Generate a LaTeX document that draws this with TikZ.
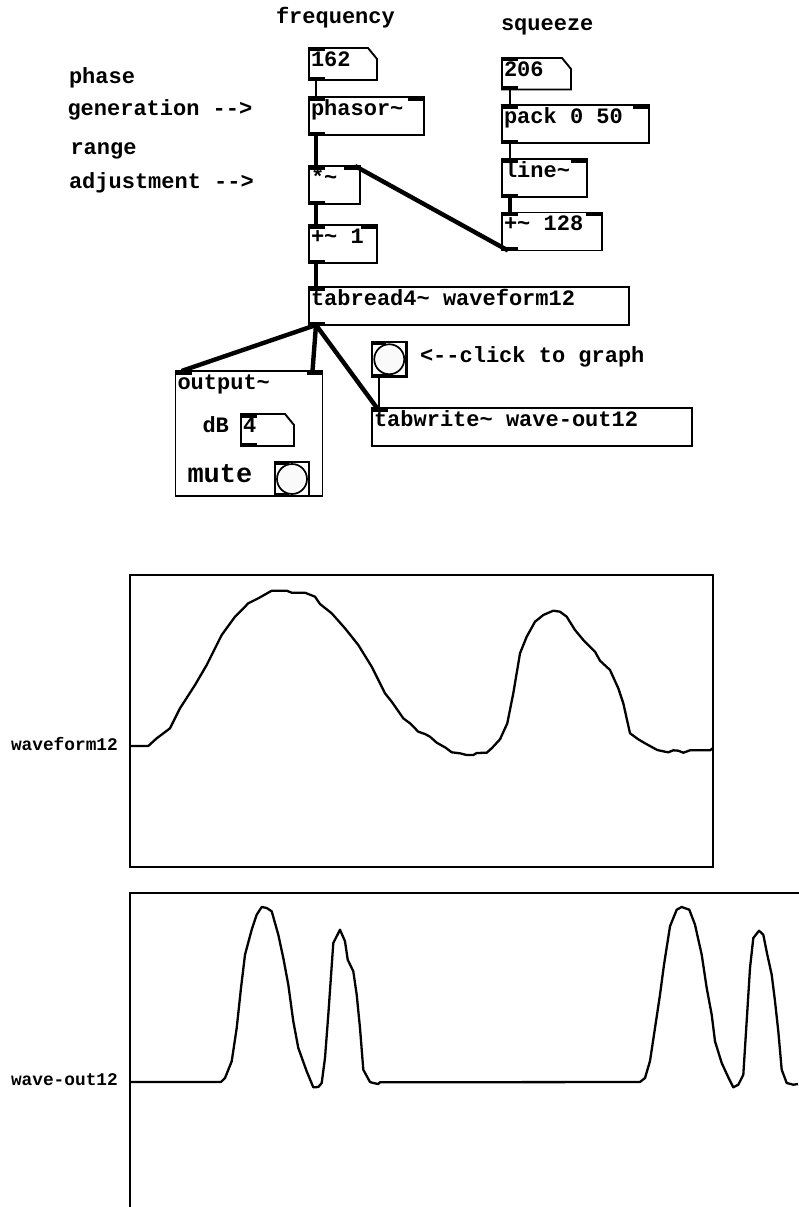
\documentclass[tikz,border=0pt]{standalone}
\usepackage{fontspec}
\setmonofont{Liberation Mono}
\newcommand\pdfnt{\ttfamily\bfseries\fontsize{22}{24}\selectfont}
\newcommand\pdsmall{\ttfamily\bfseries\fontsize{17.8}{20}\selectfont}
\newcommand\pdbig{\ttfamily\bfseries\fontsize{27}{30}\selectfont}
\tikzset{
  pdbox/.style={draw, line width=1.9pt, rectangle, anchor=north west, inner sep=0pt, outer sep=0pt},
  pdtxt/.style={anchor=base west, inner sep=0pt, outer sep=0pt, font=\pdfnt},
  sig/.style={line width=4.4pt},
  ctl/.style={line width=1.8pt},
  wave/.style={line width=2.3pt, line join=round},
}
\newcommand\pdobj[6]{%
  \node[pdbox, minimum width=#4pt, minimum height=#5pt] (#1) at (#2,#3) {};
  \node[pdtxt] (#1-t) at ([xshift=2pt,yshift=-18.4pt]#1.north west) {#6};
}
\newcommand\pdnumbox[6]{%
  \node[pdbox, draw=none, minimum width=#4pt, minimum height=#5pt] (#1) at (#2,#3) {};
  \draw[line width=1.9pt, line join=miter] (#1.north west) -- ([xshift=-9pt]#1.north east) -- ([yshift=-11pt]#1.north east) -- (#1.south east) -- (#1.south west) -- cycle;
  \node[pdtxt] (#1-t) at ([xshift=2pt,yshift=-18.4pt]#1.north west) {#6};
  \fill (#1.north west) rectangle ++(16,3.5);
  \fill (#1.south west) rectangle ++(16,-3.5);
}
\newcommand\pdbang[4]{%
  \node[pdbox, line width=2.1pt, minimum width=#4pt, minimum height=#4pt] (#1) at (#2,#3) {};
  \node[circle, draw, line width=1.7pt, fill=gray!4, minimum size=30pt, inner sep=0pt] (#1-c) at (#1.center) {};
  \fill (#1.north west) rectangle ++(14,3);
  \fill (#1.south west) rectangle ++(14,-3);
}
\newcommand\pdinL[1]{\fill (#1.north west) rectangle ++(16,3.5);}
\newcommand\pdinR[1]{\fill (#1.north east) rectangle ++(-16,3.5);}
\newcommand\pdoutL[1]{\fill (#1.south west) rectangle ++(16,-3.5);}
\begin{document}
\begin{tikzpicture}[x=1pt,y=-1pt]
\fill[white] (0,0) rectangle (798,1207);
\useasboundingbox (0,0) rectangle (798,1207);

% ---- labels
\node[pdtxt] (lfreq) at (276,23.5) {frequency};
\node[pdtxt] (lsq) at (501,31) {squeeze};
\node[pdtxt] (lphase) at (69,83.3) {phase};
\node[pdtxt] (lgen) at (67.5,115) {generation -->};
\node[pdtxt] (lrange) at (70.5,154) {range};
\node[pdtxt] (ladj) at (69,188.3) {adjustment -->};
\node[pdtxt] (lclick) at (420,362) {<--click to graph};

% ---- objects
\pdnumbox{nfreq}{309}{48}{68}{32}{162}
\pdobj{phasor}{309}{97}{115}{38}{phasor\textasciitilde}
\pdinL{phasor}\pdinR{phasor}\pdoutL{phasor}
\pdobj{mul}{309}{166}{51}{38}{*\textasciitilde}
\pdinL{mul}\pdinR{mul}\pdoutL{mul}
\pdobj{addone}{309}{225}{68}{38}{+\textasciitilde{} 1}
\pdinL{addone}\pdinR{addone}\pdoutL{addone}
\pdobj{tabread}{309}{287}{320}{38}{tabread4\textasciitilde{} waveform12}
\pdinL{tabread}\pdoutL{tabread}

\pdnumbox{nsq}{502}{58}{69}{31.5}{206}
\pdobj{pack}{502}{105}{147}{38}{pack 0 50}
\pdinL{pack}\pdinR{pack}\pdoutL{pack}
\pdobj{linet}{502}{159}{85}{38}{line\textasciitilde}
\pdinL{linet}\pdinR{linet}\pdoutL{linet}
\pdobj{addhi}{502}{212.5}{100}{38}{+\textasciitilde{} 128}
\pdinL{addhi}\pdinR{addhi}\pdoutL{addhi}

\pdobj{outp}{175.5}{371}{147}{125}{output\textasciitilde}
\pdinL{outp}\pdinR{outp}
\node[pdtxt] (ldb) at (202.5,432) {dB};
\pdnumbox{ndb}{241}{414}{53}{32}{4}
\node[pdtxt, font=\pdbig] (lmute) at (187.5,482.5) {mute};
\pdbang{mute}{275}{462}{34}

\pdbang{bang}{372}{342}{34.5}
\pdobj{tabwrite}{372}{408}{320}{38}{tabwrite\textasciitilde{} wave-out12}
\pdinL{tabwrite}

% ---- connections
\draw[ctl] ([xshift=7pt]nfreq.south west) -- ([xshift=7pt]phasor.north west);
\draw[sig] ([xshift=7pt]phasor.south west) -- ([xshift=7pt]mul.north west);
\draw[sig] ([xshift=7pt]mul.south west) -- ([xshift=7pt]addone.north west);
\draw[sig] ([xshift=7pt]addone.south west) -- ([xshift=7pt]tabread.north west);
\draw[ctl] ([xshift=8pt]nsq.south west) -- ([xshift=8pt]pack.north west);
\draw[ctl] ([xshift=8pt]pack.south west) -- ([xshift=8pt]linet.north west);
\draw[sig] ([xshift=8pt]linet.south west) -- ([xshift=8pt]addhi.north west);
\draw[sig] ([xshift=6pt]addhi.south west) -- ([xshift=-5pt]mul.north east);
\draw[sig] ([xshift=7pt]tabread.south west) -- ([xshift=6pt]outp.north west);
\draw[sig] ([xshift=7pt]tabread.south west) -- ([xshift=-10pt]outp.north east);
\draw[sig] ([xshift=7pt]tabread.south west) -- ([xshift=5pt]tabwrite.north west);
\draw[ctl] ([xshift=7pt]bang.south west) -- ([xshift=7pt]tabwrite.north west);

% ---- graph 1
\node[pdbox, line width=2pt, minimum width=583pt, minimum height=292pt] (graphA) at (130,575) {};
\node[pdtxt, font=\pdsmall] (lwf) at (11,750.5) {waveform12};
\draw[wave] plot coordinates {(131,746) (148.3,746) (156.7,738.3) (170,728.3) (180,708.3) (195,685) (206.7,665) (221.7,635) (235,616.7) (248.3,603.3) (258.3,598.3) (271.7,590.7) (286.7,590.7) (291.7,592.7) (305,592.7) (315,596.7) (320,604) (331.7,613.3) (345,628.3) (358.3,645) (371.7,666.7) (385,693.3) (391.7,701.7) (403.3,718.3) (410,723.3) (418.3,731.7) (425,734) (430,736.7) (436.7,742.7) (445,747.3) (451.7,752.3) (460,753.3) (466.7,755) (473.3,755) (476.7,753) (486.7,752.7) (491.7,748.3) (500,739.3) (507.3,723.3) (513.3,693.3) (520,653.3) (526.7,636.7) (535,621.7) (543.3,615) (553.3,610.7) (560,611.7) (566.7,616.7) (575,630) (583.3,640) (595,651.7) (600,660.7) (610,670) (618.3,688.3) (623.3,703.3) (630,733.3) (638.3,739.3) (645,743.3) (657.3,750) (665,751.7) (668.3,752.3) (673.3,750.3) (678.3,750.7) (683.3,752.7) (690,750.3) (710,750.3) (712.7,748.3)};

% ---- graph 2
\draw[line width=2pt] (130,1208) -- (130,892.5) -- (799,892.5);
\node[pdtxt, font=\pdsmall] (lwo) at (11,1085.5) {wave-out12};
\draw[wave] plot coordinates {(130,1082) (221,1082) (225,1078) (231.7,1061.3) (236.7,1028) (241,988) (245,954.7) (251.7,929.7) (256.7,914.7) (261.7,907) (266.7,908) (271.7,911.3) (278.3,934.7) (283.3,958) (288.3,984.7) (293.3,1021.3) (298.3,1048) (306.7,1071.3) (313.3,1087.3) (318.3,1087) (321.7,1083) (325,1058) (328.3,1014.7) (333.3,943) (340,929.7) (345,941.3) (347.7,959.7) (353.3,971.3) (356.7,994.7) (360,1028) (363.3,1069.7) (370,1082) (373.3,1083) (378.3,1084) (380,1082.3) (640,1082) (645,1078) (650,1061) (655,1028) (660,994.7) (664,964.7) (670,926.3) (676.7,909.7) (681.7,907) (689.3,909.7) (695,924.7) (701.7,954.7) (706.7,988) (711.7,1014.7) (715,1041.3) (721.7,1063) (728.3,1077.3) (733.3,1087.3) (738.3,1084.7) (743.3,1074.7) (747.3,1011.3) (750,968) (753.3,938) (759,930.7) (763.3,934.7) (767.3,954.7) (771.7,974.7) (775,1001.3) (778.3,1031.3) (781.7,1069.7) (786.7,1083) (793.3,1084.7) (798,1084)};
\end{tikzpicture}
\end{document}
